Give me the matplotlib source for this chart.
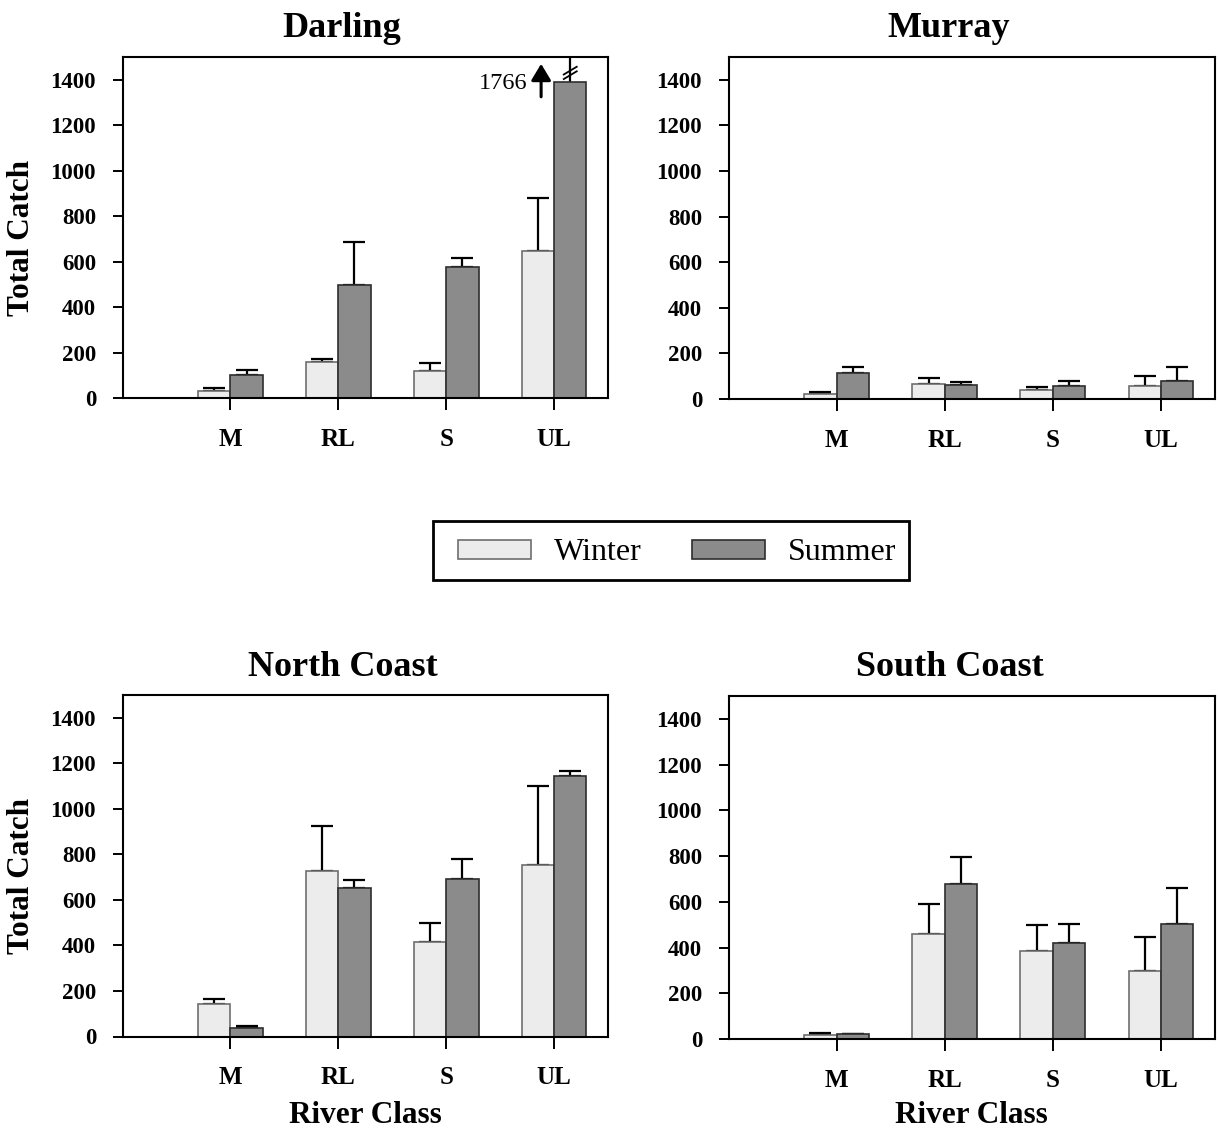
import matplotlib
matplotlib.use("Agg")
import matplotlib.pyplot as plt
import numpy as np
from matplotlib.patches import Rectangle

plt.rcParams['font.family'] = ['Liberation Serif', 'DejaVu Serif']

# ---------------- data ----------------
categories = ['M', 'RL', 'S', 'UL']
seasons = ['Winter', 'Summer']

darling_winter = [31, 160, 120, 647]
darling_winter_err = [14, 12, 33, 234]
darling_summer = [101, 498, 577, 1766]
darling_summer_err = [22, 189, 40, np.nan]

murray_winter = [22, 65, 38, 56]
murray_winter_err = [7, 26, 14, 43]
murray_summer = [116, 60, 58, 80]
murray_summer_err = [26, 13, 22, 60]

north_winter = [141, 726, 415, 755]
north_winter_err = [25, 200, 82, 345]
north_summer = [37, 652, 692, 1145]
north_summer_err = [11, 37, 88, 20]

south_winter = [18, 457, 383, 298]
south_winter_err = [9, 132, 117, 148]
south_summer = [22, 680, 418, 501]
south_summer_err = [2, 114, 83, 160]

yticks = [0, 200, 400, 600, 800, 1000, 1200, 1400]
ymax = 1500
break_at = 1390   # display height of the truncated (broken) bar

panels = [
    ('Darling', darling_winter, darling_winter_err, darling_summer, darling_summer_err),
    ('Murray', murray_winter, murray_winter_err, murray_summer, murray_summer_err),
    ('North Coast', north_winter, north_winter_err, north_summer, north_summer_err),
    ('South Coast', south_winter, south_winter_err, south_summer, south_summer_err),
]

# ---------------- style ----------------
W, H = 1218, 1129
fig = plt.figure(figsize=(W / 100, H / 100), dpi=100)

win_face, win_edge = '#ececec', '#6e6e6e'
sum_face, sum_edge = '#8b8b8b', '#2e2e2e'
bw = 0.3

# axes boxes in pixels: left, top, right, bottom
boxes = [
    (122.5, 57.0, 608.0, 398.0),
    (728.5, 57.0, 1215.0, 399.0),
    (122.5, 695.0, 608.0, 1036.5),
    (728.5, 696.0, 1215.0, 1039.0),
]
title_pos = [(342, 37), (949, 37), (343, 676), (950, 676)]

def px_axes(l, t, r, b):
    return fig.add_axes([l / W, 1 - b / H, (r - l) / W, (b - t) / H])

x = np.arange(len(categories))
for i, (name, w, we, s, se) in enumerate(panels):
    ax = px_axes(*boxes[i])
    s_arr = np.array(s, dtype=float)
    s_draw = np.where(s_arr > ymax, break_at, s_arr)
    ax.bar(x - bw / 2, w, width=bw, color=win_face, edgecolor=win_edge,
           linewidth=1.2, zorder=2, label=seasons[0])
    ax.bar(x + bw / 2, s_draw, width=bw, color=sum_face, edgecolor=sum_edge,
           linewidth=1.2, zorder=2, label=seasons[1])
    # upper error bars only
    ax.errorbar(x - bw / 2, w, yerr=[np.zeros(len(w)), we], fmt='none',
                ecolor='black', elinewidth=1.6, capsize=8, capthick=1.6, zorder=1)
    se_arr = np.array(se, dtype=float)
    ok = ~np.isnan(se_arr)
    ax.errorbar((x + bw / 2)[ok], s_draw[ok], yerr=[np.zeros(ok.sum()), se_arr[ok]],
                fmt='none', ecolor='black', elinewidth=1.6, capsize=8,
                capthick=1.6, zorder=1)

    # truncated bars: line to top with break marks and annotation arrow
    for j in np.where(s_arr > ymax)[0]:
        xc = x[j] + bw / 2
        ax.plot([xc, xc], [s_draw[j], ymax], color='black', lw=1.6,
                zorder=1, clip_on=True)
        for yb in (1415, 1435):
            ax.plot([xc - 0.06, xc + 0.06], [yb - 12, yb + 22], color='black',
                    lw=1.3, zorder=3)
        xa = x[j] - 0.12
        ax.annotate('', xy=(xa, 1470), xytext=(xa, 1325),
                    arrowprops=dict(arrowstyle='-|>,head_length=0.5,head_width=0.3',
                                    lw=2.2, color='black', mutation_scale=20,
                                    shrinkA=0, shrinkB=0))
        ax.text(xa - 0.13, 1385, f'{int(s_arr[j])}', ha='right', va='center',
                fontsize=17.5)

    ax.set_xlim(-1.0, 3.5)
    ax.set_ylim(0, ymax)
    ax.set_yticks(yticks)
    ax.set_yticklabels([str(v) for v in yticks], fontsize=16.5, fontweight='bold')
    ax.set_xticks(x)
    ax.set_xticklabels(categories, fontsize=18, fontweight='bold')
    ax.tick_params(axis='y', direction='out', length=7, width=1.4, pad=12)
    ax.tick_params(axis='x', direction='out', length=8.5, width=1.4, pad=13)
    for sp in ax.spines.values():
        sp.set_linewidth(1.5)
        sp.set_color('black')

    l, t, r, b = boxes[i]
    tx, ty = title_pos[i]
    fig.text(tx / W, 1 - ty / H, name, ha='center', va='baseline',
             fontsize=26, fontweight='bold')
    if i in (0, 2):
        fig.text(36 / W, 1 - ((t + b) / 2 + 10) / H, 'Total Catch', rotation=90,
                 ha='right', va='center', fontsize=22.5, fontweight='bold')
    if i in (2, 3):
        fig.text(((l + r) / 2) / W, 1 - 1123 / H, 'River Class', ha='center',
                 va='baseline', fontsize=22.5, fontweight='bold')

    if i == 0:
        handles, labels = ax.get_legend_handles_labels()

# legend (frame drawn as separate rectangle)
leg = fig.legend(handles, labels, loc='center', ncol=2, frameon=False,
                 bbox_to_anchor=(677 / W, 1 - 553 / H), fontsize=23,
                 handlelength=2.29, handleheight=0.54, handletextpad=0.72,
                 columnspacing=1.57)
for p in leg.get_patches():
    p.set_linewidth(1.2)
fig.patches.append(Rectangle((433 / W, 1 - 579.5 / H), (909 - 433) / W,
                             (579.5 - 520.5) / H, transform=fig.transFigure,
                             fill=False, edgecolor='black', linewidth=2.0))

fig.savefig('out.png', dpi=100)
